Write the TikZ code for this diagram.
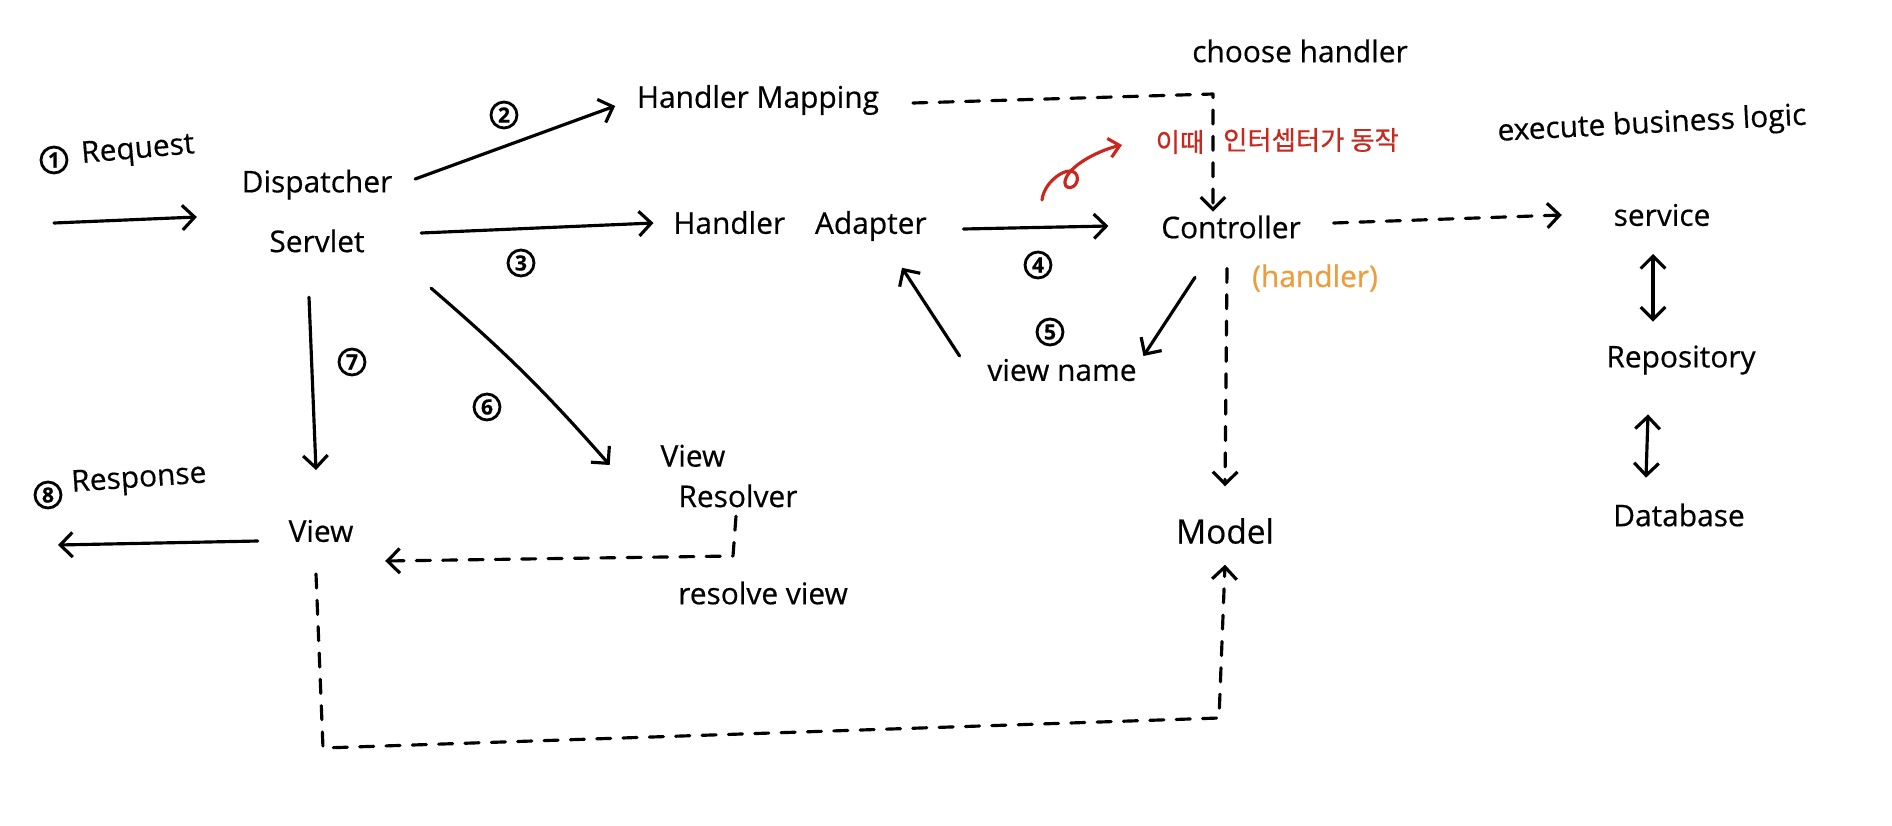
\documentclass[tikz,border=0pt]{standalone}
\usepackage{fontspec}
\setmainfont{Open Sans}[FakeBold=0.5]
\newfontfamily\kr{Noto Sans CJK KR}[FakeBold=0.6]
\usetikzlibrary{arrows.meta,calc}
\definecolor{hred}{RGB}{200,40,30}
\definecolor{horange}{RGB}{236,158,60}
\begin{document}
\begin{tikzpicture}[x=0.02cm,y=-0.02cm,
  lbl/.style={font=\fontsize{17}{20}\selectfont, inner sep=2pt},
  krlbl/.style={font=\kr\fontsize{15}{18}\selectfont, text=hred, inner sep=2pt},
  num/.style={circle,draw,line width=1.6pt,inner sep=0pt,minimum size=0.52cm,font=\fontsize{12}{12}\selectfont\bfseries},
  arr/.style={line width=1.8pt,line cap=round,line join=round,-{Straight Barb[length=7pt,width=14pt]}},
  darr/.style={arr,dash pattern=on 8pt off 7pt},
  dbl/.style={line width=1.8pt,line cap=round,{Straight Barb[length=7pt,width=14pt]}-{Straight Barb[length=7pt,width=14pt]}}]
\useasboundingbox[fill=white] (0,0) rectangle (1892,825);

% texts
\node[num] (n1) at (54,160) {1};
\node[lbl,rotate=5] (req) at (138,151) {Request};
\node[lbl,align=center,font=\fontsize{17}{34}\selectfont] (ds) at (317,211) {Dispatcher\\Servlet};
\node[lbl] (hm) at (758,100) {Handler Mapping};
\node[lbl] (ha) at (800,226) {Handler\hspace{1em}Adapter};
\node[lbl] (ctrl) at (1231,227) {Controller};
\node[lbl,text=horange] (hdl) at (1315,278) {(handler)};
\node[lbl] (ch) at (1300,51) {choose handler};
\node[krlbl] (kor1) at (1180,142) {이때};
\node[krlbl] (kor2) at (1311,140) {인터셉터가 동작};
\node[lbl,rotate=3] (ebl) at (1652,125) {execute business logic};
\node[lbl] (svc) at (1662,215) {service};
\node[lbl] (repo) at (1681,360) {Repository};
\node[lbl] (db) at (1679,515) {Database};
\node[lbl,font=\fontsize{19}{22}\selectfont] (model) at (1225,531) {Model};
\node[lbl] (vn) at (1062,370) {view name};
\node[lbl] (view) at (321,531) {View};
\node[lbl,align=left,font=\fontsize{17}{23}\selectfont] (vr) at (729,476) {View\\\hspace*{0.6em}Resolver};
\node[lbl] (rv) at (763,593) {resolve view};
\node[num] (n8) at (48,495) {8};
\node[lbl,rotate=4] (resp) at (139,480) {Response};
\node[num] (n2) at (504,115) {2};
\node[num] (n3) at (521,263) {3};
\node[num] (n4) at (1038,265) {4};
\node[num] (n5) at (1050,332) {5};
\node[num] (n6) at (487,407) {6};
\node[num] (n7) at (352,362) {7};

% coordinates
\coordinate (reqs) at (54,223);
\coordinate (respend) at (58,545);
\coordinate (c1) at (1213,94);
\coordinate (c2) at (733,556);
\coordinate (c3) at (323,748);
\coordinate (c4) at (1219,718);

% connectors
\draw[arr] (reqs) -- ($(ds.west)+(-41,6)$);
\draw[arr] ($(ds.east)+(19,-32)$) -- ($(hm.west)+(-18,6)$);
\draw[arr] ($(ds.east)+(25,22)$) -- ($(ha.west)+(-16,-3)$);
\draw[arr] ($(ha.east)+(33,3)$) -- ($(ctrl.west)+(-49,-1)$);
\draw[darr] ($(hm.east)+(30,3)$) -- (c1) -- (c1 |- ctrl.north);
\draw[darr] ($(ctrl.east)+(29,-4)$) -- ($(svc.west)+(-48,0)$);
\draw[darr] ($(ctrl.south)+(-4,26)$) -- ($(model.north)+(0,-28)$);
\draw[arr] ($(ctrl.south)+(-36,35)$) -- ($(vn.east)+(3,-14)$);
\draw[arr] ($(vn.west)+(-24,-14)$) -- ($(ha.south)+(102,23)$);
\draw[arr] ($(ds.south)+(-8,41)$) -- ($(view.north)+(-5,-46)$);
\draw[arr] ($(ds.south east)+(35,32)$) to[bend left=4] ($(vr.west)+(-47,-11)$);
\draw[arr] ($(view.west)+(-27,10)$) -- (respend);
\draw[darr] ($(vr.south)+(7,5)$) -- (c2) -- ($(view.east)+(28,30)$);
\draw[darr] ($(view.south)+(-5,28)$) -- (c3) -- (c4) -- ($(model.south)+(0,17)$);
\draw[dbl] ($(svc.south)+(-9,24)$) -- ($(repo.north)+(-28,-20)$);
\draw[dbl] ($(repo.south)+(-33,36)$) -- ($(db.north)+(-33,-22)$);

% red curly arrow
\draw[hred,line width=1.8pt,line cap=round,line join=round,-{Straight Barb[length=6pt,width=11pt]}]
  (1042,200) .. controls (1044,180) and (1072,162) .. (1077,176)
  .. controls (1080,190) and (1060,192) .. (1066,178)
  .. controls (1072,164) and (1100,150) .. (1122,145);
\end{tikzpicture}
\end{document}
